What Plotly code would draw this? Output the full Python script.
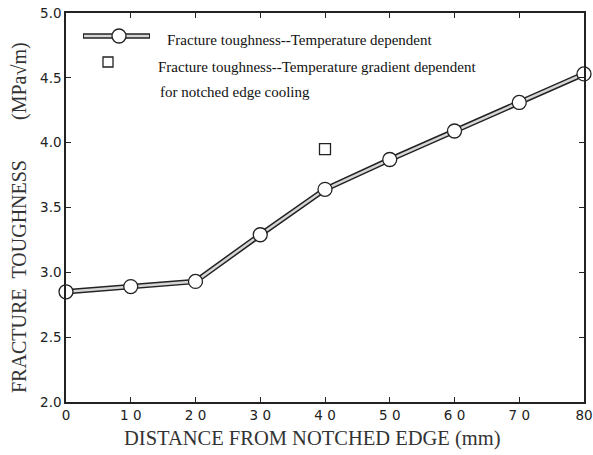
import plotly.graph_objects as go

distance = [0, 10, 20, 30, 40, 50, 60, 70, 80]
toughness_temp = [2.85, 2.89, 2.93, 3.29, 3.64, 3.87, 4.09, 4.31, 4.53]
gradient_x = [40]
gradient_y = [3.95]

x_ticks = [0, 10, 20, 30, 40, 50, 60, 70, 80]
x_ticktext = ["0", "1 0", "2 0", "3 0", "4 0", "5 0", "6 0", "7 0", "80"]
y_ticks = [2.0, 2.5, 3.0, 3.5, 4.0, 4.5, 5.0]

serif = "Liberation Serif, Times New Roman, serif"
sans = "DejaVu Sans, Arial, sans-serif"
NB = "\u00a0"

L, R, T, B = 66, 9, 13, 53
W, H = 593, 455
PW, PH = W - L - R, H - T - B

fig = go.Figure()
fig.add_trace(go.Scatter(x=distance, y=toughness_temp, mode="lines",
                         line=dict(color="#222", width=5.5), showlegend=False, hoverinfo="skip"))
fig.add_trace(go.Scatter(x=distance, y=toughness_temp, mode="lines+markers",
                         line=dict(color="#d6d6d6", width=2.5),
                         marker=dict(symbol="circle", size=14, color="white",
                                     line=dict(color="#222", width=1.3)),
                         showlegend=False, cliponaxis=False))
fig.add_trace(go.Scatter(x=gradient_x, y=gradient_y, mode="markers",
                         marker=dict(symbol="square", size=11, color="white",
                                     line=dict(color="#222", width=1.3)),
                         showlegend=False))

# legend drawn manually
px = lambda p: (p - L) / PW
py = lambda p: (H - B - p) / PH
fig.add_shape(type="line", xref="paper", yref="paper", x0=px(83), x1=px(150), y0=py(36), y1=py(36),
              line=dict(color="#222", width=5.5))
fig.add_shape(type="line", xref="paper", yref="paper", x0=px(84), x1=px(149), y0=py(36), y1=py(36),
              line=dict(color="#d6d6d6", width=2.5))
fig.add_shape(type="circle", xref="paper", yref="paper", x0=px(112), x1=px(126), y0=py(43), y1=py(29),
              fillcolor="white", line=dict(color="#222", width=1.3))
fig.add_shape(type="rect", xref="paper", yref="paper", x0=px(103), x1=px(113), y0=py(67), y1=py(57),
              fillcolor="white", line=dict(color="#222", width=1.3))
fig.add_annotation(xref="paper", yref="paper", x=px(165), y=py(40), xanchor="left", yanchor="middle",
                   text="Fracture toughness--Temperature dependent", showarrow=False,
                   font=dict(family=serif, size=15, color="#111"))
fig.add_annotation(xref="paper", yref="paper", x=px(156), y=py(67), xanchor="left", yanchor="middle",
                   text="Fracture toughness--Temperature gradient dependent", showarrow=False,
                   font=dict(family=serif, size=15, color="#111"))
fig.add_annotation(xref="paper", yref="paper", x=px(158), y=py(92), xanchor="left", yanchor="middle",
                   text="for notched edge cooling", showarrow=False,
                   font=dict(family=serif, size=15, color="#111"))

# axis titles
fig.add_annotation(xref="paper", yref="paper", x=px(312), y=py(438), xanchor="center", yanchor="middle",
                   text="DISTANCE FROM NOTCHED EDGE (mm)", showarrow=False,
                   font=dict(family=serif, size=20.5, color="#333"))
fig.add_annotation(xref="paper", yref="paper", x=px(19), y=py(218), xanchor="center", yanchor="middle",
                   textangle=-90,
                   text="FRACTURE" + NB * 2 + "TOUGHNESS" + NB * 8 + "(MPa√m)", showarrow=False,
                   font=dict(family=serif, size=20, color="#333"))

fig.update_layout(
    width=W, height=H,
    margin=dict(l=L, r=R, t=T, b=B),
    paper_bgcolor="white", plot_bgcolor="white",
    xaxis=dict(range=[0, 80], tickvals=x_ticks, ticktext=x_ticktext, automargin=False,
               ticklabeloverflow="allow",
               ticks="inside", ticklen=5, tickcolor="#222", showgrid=False, zeroline=False,
               showline=True, linecolor="#222", linewidth=1.5, mirror="ticks",
               tickfont=dict(family=sans, size=13.5, color="#222")),
    yaxis=dict(range=[2.0, 5.0], tickvals=y_ticks, tickformat=".1f", automargin=False,
               ticklabeloverflow="allow",
               ticks="inside", ticklen=5, tickcolor="#222", showgrid=False, zeroline=False,
               showline=True, linecolor="#222", linewidth=1.5, mirror="ticks",
               tickfont=dict(family=sans, size=13.5, color="#222")),
)

fig.write_html("out.html")
